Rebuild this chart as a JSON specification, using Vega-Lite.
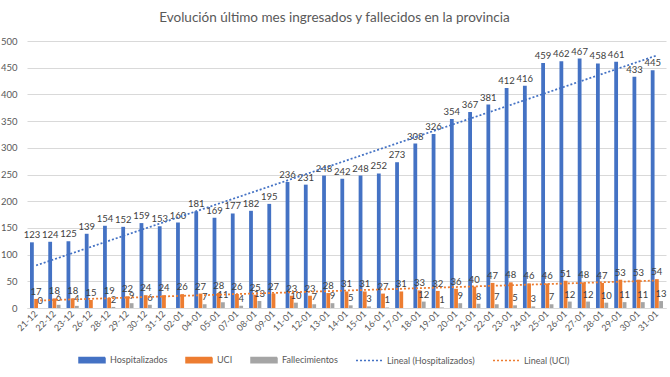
{
  "$schema": "https://vega.github.io/schema/vega-lite/v6.json",
  "width": 639,
  "height": 267,
  "padding": {"left": 0, "top": 10, "right": 3, "bottom": 0},
  "autosize": {"type": "pad"},
  "background": "white",
  "title": {"text": "Evolución último mes ingresados y fallecidos en la provincia", "font": "Lato", "fontSize": 13.5, "fontWeight": "normal", "color": "#595959", "offset": 12, "anchor": "middle", "dx": -12},
  "datasets": {
    "tbl": [
      {"i": 1, "f": "21-12", "Hospitalizados": 123, "UCI": 17, "Fallecimientos": 0},
      {"i": 2, "f": "22-12", "Hospitalizados": 124, "UCI": 18, "Fallecimientos": 6},
      {"i": 3, "f": "23-12", "Hospitalizados": 125, "UCI": 18, "Fallecimientos": 4},
      {"i": 4, "f": "26-12", "Hospitalizados": 139, "UCI": 15, "Fallecimientos": null},
      {"i": 5, "f": "28-12", "Hospitalizados": 154, "UCI": 19, "Fallecimientos": 2},
      {"i": 6, "f": "29-12", "Hospitalizados": 152, "UCI": 22, "Fallecimientos": 9},
      {"i": 7, "f": "30-12", "Hospitalizados": 159, "UCI": 24, "Fallecimientos": 6},
      {"i": 8, "f": "31-12", "Hospitalizados": 153, "UCI": 24, "Fallecimientos": null},
      {"i": 9, "f": "02-01", "Hospitalizados": 160, "UCI": 26, "Fallecimientos": null},
      {"i": 10, "f": "04-01", "Hospitalizados": 181, "UCI": 27, "Fallecimientos": 7},
      {"i": 11, "f": "05-01", "Hospitalizados": 169, "UCI": 28, "Fallecimientos": 11},
      {"i": 12, "f": "07-01", "Hospitalizados": 177, "UCI": 26, "Fallecimientos": 4},
      {"i": 13, "f": "08-01", "Hospitalizados": 182, "UCI": 25, "Fallecimientos": 13},
      {"i": 14, "f": "09-01", "Hospitalizados": 195, "UCI": 27, "Fallecimientos": null},
      {"i": 15, "f": "11-01", "Hospitalizados": 236, "UCI": 23, "Fallecimientos": 10},
      {"i": 16, "f": "12-01", "Hospitalizados": 231, "UCI": 23, "Fallecimientos": 7},
      {"i": 17, "f": "13-01", "Hospitalizados": 248, "UCI": 28, "Fallecimientos": 9},
      {"i": 18, "f": "14-01", "Hospitalizados": 242, "UCI": 31, "Fallecimientos": 5},
      {"i": 19, "f": "15-01", "Hospitalizados": 248, "UCI": 31, "Fallecimientos": 3},
      {"i": 20, "f": "16-01", "Hospitalizados": 252, "UCI": 27, "Fallecimientos": 1},
      {"i": 21, "f": "17-01", "Hospitalizados": 273, "UCI": 31, "Fallecimientos": null},
      {"i": 22, "f": "18-01", "Hospitalizados": 308, "UCI": 33, "Fallecimientos": 12},
      {"i": 23, "f": "19-01", "Hospitalizados": 326, "UCI": 32, "Fallecimientos": 1},
      {"i": 24, "f": "20-01", "Hospitalizados": 354, "UCI": 36, "Fallecimientos": 9},
      {"i": 25, "f": "21-01", "Hospitalizados": 367, "UCI": 40, "Fallecimientos": 8},
      {"i": 26, "f": "22-01", "Hospitalizados": 381, "UCI": 47, "Fallecimientos": 7},
      {"i": 27, "f": "23-01", "Hospitalizados": 412, "UCI": 48, "Fallecimientos": 5},
      {"i": 28, "f": "24-01", "Hospitalizados": 416, "UCI": 46, "Fallecimientos": 3},
      {"i": 29, "f": "25-01", "Hospitalizados": 459, "UCI": 46, "Fallecimientos": 7},
      {"i": 30, "f": "26-01", "Hospitalizados": 462, "UCI": 51, "Fallecimientos": 12},
      {"i": 31, "f": "27-01", "Hospitalizados": 467, "UCI": 48, "Fallecimientos": 12},
      {"i": 32, "f": "28-01", "Hospitalizados": 458, "UCI": 47, "Fallecimientos": 10},
      {"i": 33, "f": "29-01", "Hospitalizados": 461, "UCI": 53, "Fallecimientos": 11},
      {"i": 34, "f": "30-01", "Hospitalizados": 433, "UCI": 53, "Fallecimientos": 11},
      {"i": 35, "f": "31-01", "Hospitalizados": 445, "UCI": 54, "Fallecimientos": 13}
    ]
  },
  "data": {"name": "tbl"},
  "config": {
    "view": {"stroke": null},
    "font": "Lato",
    "axis": {"labelFont": "Lato", "labelColor": "#595959"}
  },
  "encoding": {
    "x": {
      "field": "f", "type": "ordinal",
      "scale": {"domain": ["21-12","22-12","23-12","26-12","28-12","29-12","30-12","31-12","02-01","04-01","05-01","07-01","08-01","09-01","11-01","12-01","13-01","14-01","15-01","16-01","17-01","18-01","19-01","20-01","21-01","22-01","23-01","24-01","25-01","26-01","27-01","28-01","29-01","30-01","31-01"], "paddingInner": 0.33, "paddingOuter": 0.165},
      "axis": {"title": null, "labelAngle": -45, "labelAlign": "right", "labelBaseline": "middle", "labelFontSize": 9, "labelPadding": 4, "ticks": false, "domainColor": "#d9d9d9", "grid": false}
    },
    "y": {
      "field": "v", "type": "quantitative",
      "scale": {"domain": [0, 500], "nice": false},
      "axis": {"title": null, "values": [0,50,100,150,200,250,300,350,400,450,500], "domain": false, "ticks": false, "gridColor": "#d9d9d9", "labelFontSize": 9.5, "labelPadding": 10}
    }
  },
  "layer": [
    {
      "transform": [{"fold": ["Hospitalizados", "UCI", "Fallecimientos"], "as": ["s", "v"]}],
      "mark": {"type": "bar"},
      "encoding": {
        "xOffset": {"field": "s", "type": "nominal", "scale": {"domain": ["Hospitalizados", "UCI", "Fallecimientos"], "paddingInner": 0.1}},
        "color": {
          "field": "s", "type": "nominal",
          "scale": {"domain": ["Hospitalizados", "UCI", "Fallecimientos", "Lineal (Hospitalizados)", "Lineal (UCI)"], "range": ["#4472C4", "#ED7D31", "#A5A5A5", "#4472C4", "#ED7D31"]},
          "legend": {
            "title": null, "orient": "none", "legendX": 51, "legendY": 305, "direction": "horizontal",
            "labelFont": "Lato", "labelFontSize": 9, "labelColor": "#595959",
            "symbolSize": 676, "columnPadding": 15, "labelOffset": 4,
            "encode": {"symbols": {"update": {
              "shape": {"signal": "indexof(datum.value,'Lineal')===0 ? 'stroke' : 'M-1,-0.2H1V0.2H-1Z'"},
              "fill": {"signal": "indexof(datum.value,'Lineal')===0 ? 'transparent' : scale('color', datum.value)"},
              "stroke": {"signal": "indexof(datum.value,'Lineal')===0 ? scale('color', datum.value) : 'transparent'"},
              "strokeDash": {"signal": "indexof(datum.value,'Lineal')===0 ? [2,2] : [1,0]"},
              "strokeWidth": {"value": 1.5},
              "opacity": {"value": 1}
            }}}
          }
        }
      }
    },
    {
      "transform": [{"fold": ["Hospitalizados", "UCI", "Fallecimientos"], "as": ["s", "v"]}, {"filter": "datum.v != null"}],
      "mark": {"type": "text", "baseline": "bottom", "dy": -2, "fontSize": 9.5, "font": "Lato", "color": "#404040"},
      "encoding": {
        "xOffset": {"field": "s", "type": "nominal", "scale": {"domain": ["Hospitalizados", "UCI", "Fallecimientos"], "paddingInner": 0.1}},
        "text": {"field": "v", "type": "quantitative"}
      }
    },
    {
      "transform": [
        {"regression": "Hospitalizados", "on": "i"},
        {"lookup": "i", "from": {"data": {"name": "tbl"}, "key": "i", "fields": ["f"]}}
      ],
      "mark": {"type": "line", "strokeDash": [2, 2], "strokeWidth": 1.75},
      "encoding": {
        "y": {"field": "Hospitalizados", "type": "quantitative"},
        "color": {"datum": "Lineal (Hospitalizados)"}
      }
    },
    {
      "transform": [
        {"regression": "UCI", "on": "i"},
        {"lookup": "i", "from": {"data": {"name": "tbl"}, "key": "i", "fields": ["f"]}}
      ],
      "mark": {"type": "line", "strokeDash": [2, 2], "strokeWidth": 1.75},
      "encoding": {
        "y": {"field": "UCI", "type": "quantitative"},
        "color": {"datum": "Lineal (UCI)"}
      }
    }
  ]
}
